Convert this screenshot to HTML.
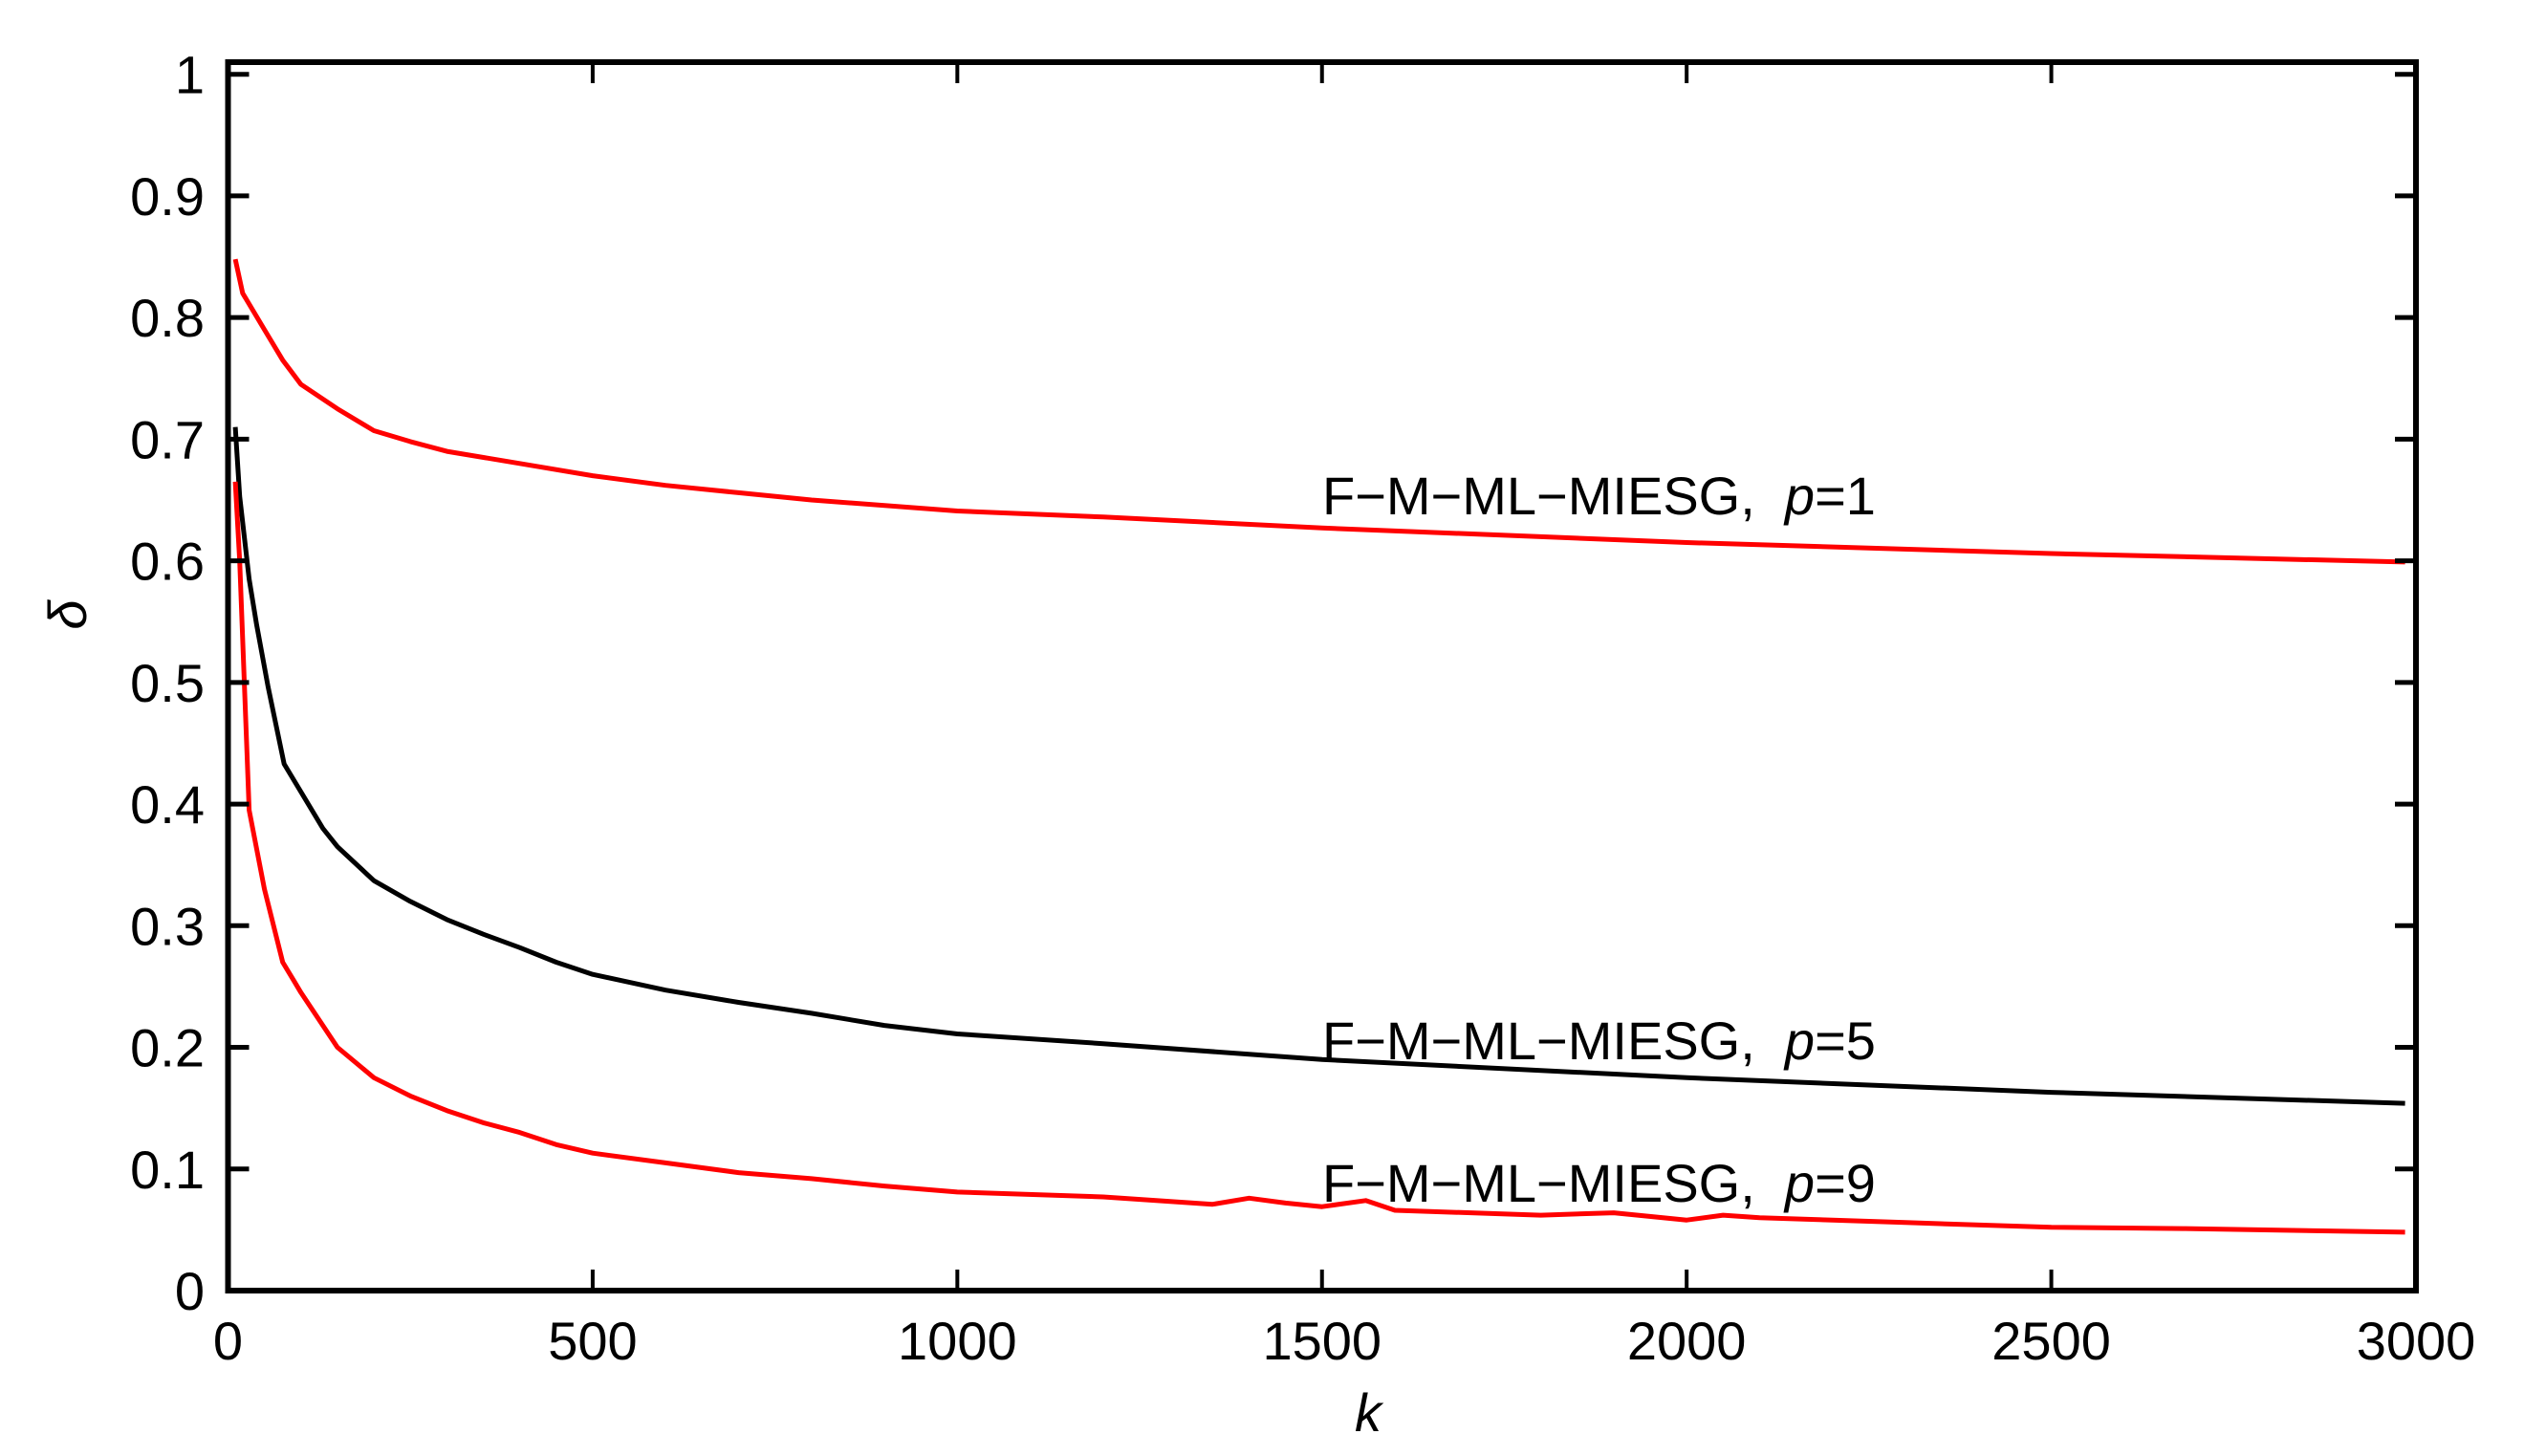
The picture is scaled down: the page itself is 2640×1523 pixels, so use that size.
<!DOCTYPE html>
<html><head><meta charset="utf-8"><style>
body{margin:0;background:#fff}
svg{display:block}
text{font-family:"Liberation Sans",sans-serif;font-size:56px;fill:#000}
</style></head><body>
<svg id="chart" width="2640" height="1523" viewBox="0 0 2640 1523" xmlns="http://www.w3.org/2000/svg">
<rect width="2640" height="1523" fill="#fff"/>
<g id="marks"></g>
<g id="axes"></g>
</svg>
<script>
const xTicks = [0, 500, 1000, 1500, 2000, 2500, 3000];
const yTicks = [0, 0.1, 0.2, 0.3, 0.4, 0.5, 0.6, 0.7, 0.8, 0.9, 1];
const yTickLabels = ["0","0.1","0.2","0.3","0.4","0.5","0.6","0.7","0.8","0.9","1"];
const kP1 = [10,20,50,75,100,150,200,250,300,400,500,600,700,800,1000,1200,1500,2000,2500,2985];
const dP1 = [0.848,0.82,0.79,0.765,0.745,0.725,0.707,0.698,0.69,0.68,0.67,0.662,0.656,0.65,0.641,0.636,0.627,0.615,0.606,0.599];
const kP5 = [10,16,29,39,55,77,100,130,150,200,250,300,350,400,450,500,600,700,800,900,1000,1200,1500,2000,2500,2985];
const dP5 = [0.71,0.653,0.585,0.548,0.496,0.433,0.41,0.38,0.365,0.337,0.32,0.305,0.293,0.282,0.27,0.26,0.247,0.237,0.228,0.218,0.211,0.203,0.19,0.175,0.163,0.154];
const kP9 = [10,16,26,29,50,75,90,100,150,200,250,300,350,400,450,500,600,700,800,900,1000,1200,1350,1400,1450,1500,1560,1600,1800,1900,2000,2050,2100,2200,2300,2500,2680,2985];
const dP9 = [0.665,0.6,0.443,0.395,0.33,0.27,0.255,0.245,0.2,0.175,0.16,0.148,0.138,0.13,0.12,0.113,0.105,0.097,0.092,0.086,0.081,0.077,0.071,0.076,0.072,0.069,0.074,0.066,0.062,0.064,0.058,0.062,0.06,0.058,0.056,0.052,0.051,0.048];

const X0 = 238.5, X1 = 2527, Y0 = 1350, Y1 = 77.7;
const xs = k => X0 + (k - 0) / 3000 * (X1 - X0);
const ys = v => Y0 - v * (Y0 - Y1);
const NS = "http://www.w3.org/2000/svg";
const marks = document.getElementById('marks');
const axes = document.getElementById('axes');

function line(ks, ds, color, name) {
  const p = document.createElementNS(NS, 'polyline');
  p.setAttribute('points', ks.map((k, i) => xs(k).toFixed(1) + ',' + ys(ds[i]).toFixed(1)).join(' '));
  p.setAttribute('fill', 'none');
  p.setAttribute('stroke', color);
  p.setAttribute('stroke-width', '5');
  p.setAttribute('stroke-linejoin', 'round');
  
  
  marks.appendChild(p);
}
line(kP1, dP1, '#ff0000', 'series-p1');
line(kP5, dP5, '#000000', 'series-p5');
line(kP9, dP9, '#ff0000', 'series-p9');

function el(tag, attrs) {
  const e = document.createElementNS(NS, tag);
  for (const a in attrs) e.setAttribute(a, attrs[a]);
  return e;
}
const frame = el('rect', {x: X0, y: 65, width: X1 - X0, height: Y0 - 65, fill: 'none', stroke: '#000', 'stroke-width': 6});


axes.appendChild(frame);

xTicks.forEach(t => {
  const x = xs(t);
  const tb = el('path', {d: `M${x},${Y0}v-22M${x},65v22`, stroke: '#000', 'stroke-width': 4});
  
  
  axes.appendChild(tb);
  const tx = el('text', {x: x, y: 1422, 'text-anchor': 'middle'});
  tx.textContent = String(t);
  
  
  axes.appendChild(tx);
});
yTicks.forEach((t, i) => {
  const y = ys(t);
  const tb = el('path', {d: `M${X0},${y}h22M${X1},${y}h-22`, stroke: '#000', 'stroke-width': 5});
  
  
  axes.appendChild(tb);
  const tx = el('text', {x: 214, y: y + 20, 'text-anchor': 'end'});
  tx.textContent = yTickLabels[i];
  
  
  axes.appendChild(tx);
});
</script>
<svg style="position:absolute;left:0;top:0" width="2640" height="1523">
<text x="1383" y="538">F−M−ML−MIESG,&#160;&#160;<tspan font-style="italic">p</tspan>=1</text>
<text x="1383" y="1108">F−M−ML−MIESG,&#160;&#160;<tspan font-style="italic">p</tspan>=5</text>
<text x="1383" y="1257">F−M−ML−MIESG,&#160;&#160;<tspan font-style="italic">p</tspan>=9</text>
<text x="1431" y="1497" text-anchor="middle" font-style="italic">k</text>
<text x="0" y="0" text-anchor="middle" font-style="italic" transform="translate(90,643) rotate(-90)">δ</text>
</svg>
</body></html>
